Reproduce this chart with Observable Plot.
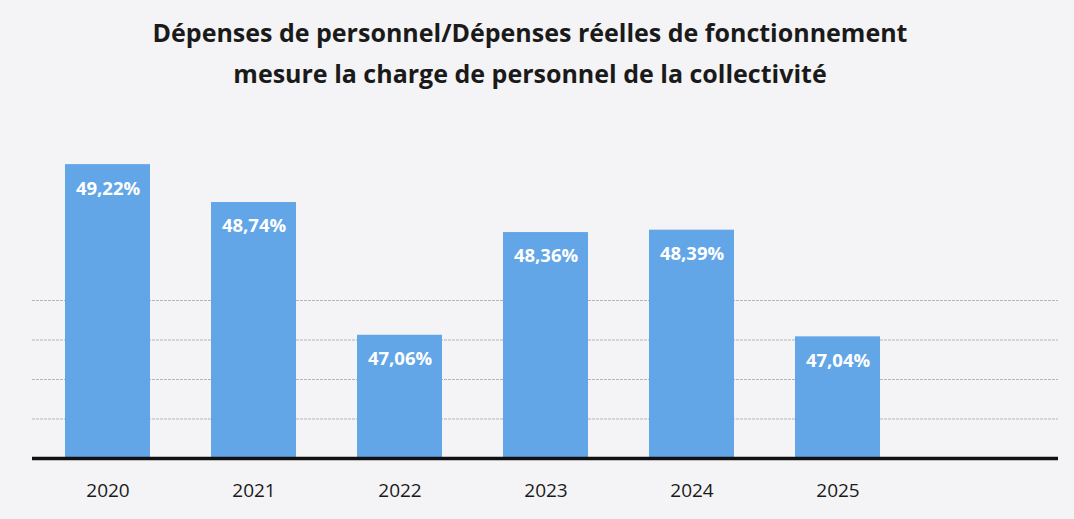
<!DOCTYPE html>
<html>
<head>
<meta charset="utf-8">
<script src="https://cdn.jsdelivr.net/npm/d3@7"></script>
<script src="https://cdn.jsdelivr.net/npm/@observablehq/plot@0.6"></script>
<style>
  html, body { margin: 0; padding: 0; background: #f4f4f6; }
  #wrap { width: 1074px; height: 519px; position: relative; overflow: hidden; }
  #title { height: 105px; box-sizing: border-box; padding-top: 12px; text-align: center;
    font-family: "Open Sans", sans-serif; font-weight: 700; font-size: 25px; line-height: 41px;
    color: #1a1a1a; letter-spacing: 0px; padding-right: 14px; }
</style>
</head>
<body>
<div id="wrap">
  <div id="title">Dépenses de personnel/Dépenses réelles de fonctionnement<br>mesure la charge de personnel de la collectivité</div>
  <div id="chart"></div>
</div>
<script>
const years = ["2020", "2021", "2022", "2023", "2024", "2025"];
const values = [49.22, 48.74, 47.06, 48.36, 48.39, 47.04];
const labels = ["49,22%", "48,74%", "47,06%", "48,36%", "48,39%", "47,04%"];
const slots = [...years, ""];
const gridValues = [46, 46.5, 47, 47.5];
const yMin = 45.5;

const data = years.map((y, i) => ({year: y, value: values[i], label: labels[i]}));

const chart = Plot.plot({
  width: 1074,
  height: 414,
  marginLeft: 32,
  marginRight: 16,
  marginTop: 37,
  marginBottom: 61,
  style: {background: "transparent", fontFamily: "Open Sans, sans-serif"},
  x: {domain: slots, paddingInner: 0.42, paddingOuter: 0.21, label: null},
  y: {domain: [yMin, 49.5], axis: null},
  marks: [
    Plot.ruleY(gridValues, {stroke: "#b5b5b8", strokeWidth: 1, strokeDasharray: "3,1"}),
    Plot.barY(data, {x: "year", y1: yMin, y2: "value", fill: "#62a6e8"}),
    Plot.text(data, {x: "year", y: "value", text: "label", dy: 24, fill: "white",
      fontWeight: 700, fontSize: 18.5}),
    Plot.ruleY([yMin], {stroke: "#111", strokeWidth: 3.5}),
    Plot.axisX({tickSize: 0, tickPadding: 25, fontSize: 19, fill: "#1a1a1a",
      tickFormat: d => d, label: null})
  ]
});
document.getElementById("chart").appendChild(chart);
</script>
</body>
</html>
